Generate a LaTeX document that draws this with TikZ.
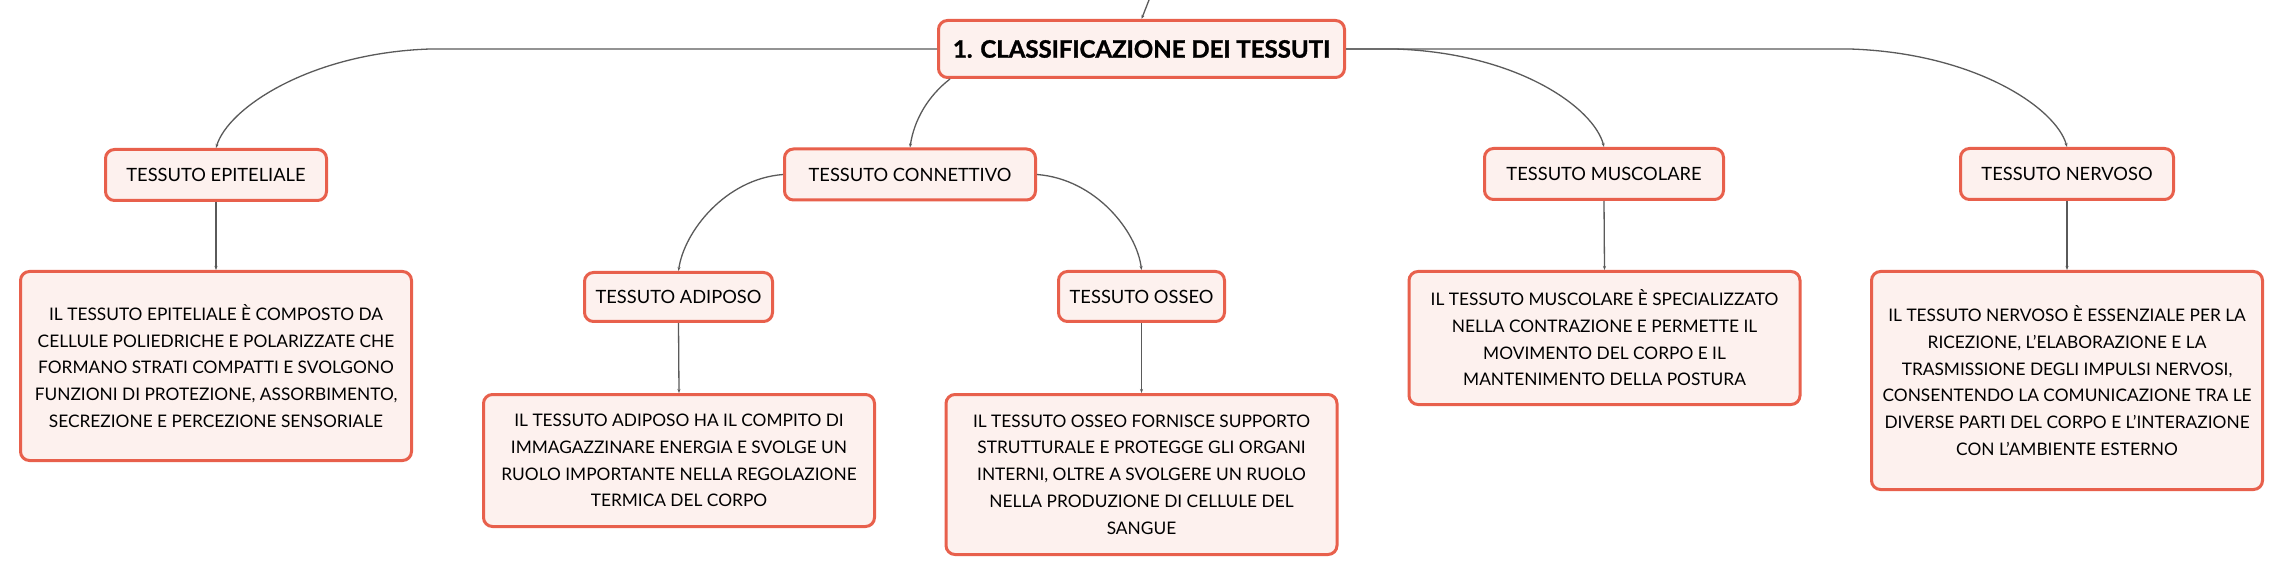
\documentclass[tikz,border=0pt]{standalone}
\usepackage{fontspec}
\setmainfont{Lato}
\newfontfamily\titlefont{Lato}[BoldFeatures={FakeBold=1.3}]
\usetikzlibrary{arrows.meta}
\definecolor{bord}{HTML}{E8604C}
\definecolor{boxfill}{HTML}{FDF1EE}
\definecolor{conn}{HTML}{5A5A5A}
\begin{document}
\begin{tikzpicture}[x=1pt,y=-1pt,
  box/.style={draw=bord, fill=boxfill, line width=3pt, rounded corners=9pt, inner sep=0pt, align=center},
  topic/.style={box, font=\fontsize{18.3}{23}\selectfont},
  descbox/.style={box, minimum width=391pt, font=\fontsize{17.3}{26.7}\selectfont},
  link/.style={draw=conn, line width=1.3pt, -{Stealth[length=4pt,width=3pt]}}
]
\useasboundingbox (0,0) rectangle (2284,577);
\fill[white] (0,0) rectangle (2284,577);

\node[box, minimum width=406pt, minimum height=57pt, font=\titlefont\fontsize{24}{28}\bfseries\selectfont] (main) at (1141.5,49) {1. CLASSIFICAZIONE DEI TESSUTI};

\node[topic, minimum width=221pt, minimum height=51pt] (epi) at (216,175) {TESSUTO EPITELIALE};
\node[topic, minimum width=251pt, minimum height=51pt] (conn) at (910,174.5) {TESSUTO CONNETTIVO};
\node[topic, minimum width=239pt, minimum height=51pt] (musc) at (1604,174) {TESSUTO MUSCOLARE};
\node[topic, minimum width=213pt, minimum height=51pt] (nerv) at (2067,174) {TESSUTO NERVOSO};
\node[topic, minimum width=188pt, minimum height=49pt] (adip) at (678.5,297) {TESSUTO ADIPOSO};
\node[topic, minimum width=166pt, minimum height=50pt] (oss) at (1141.5,296.5) {TESSUTO OSSEO};

\node[descbox, minimum height=189pt] (epiD) at (216,366) {IL TESSUTO EPITELIALE È COMPOSTO DA\\CELLULE POLIEDRICHE E POLARIZZATE CHE\\FORMANO STRATI COMPATTI E SVOLGONO\\FUNZIONI DI PROTEZIONE, ASSORBIMENTO,\\SECREZIONE E PERCEZIONE SENSORIALE};
\node[descbox, minimum height=132pt] (adipD) at (679,460.5) {IL TESSUTO ADIPOSO HA IL COMPITO DI\\IMMAGAZZINARE ENERGIA E SVOLGE UN\\RUOLO IMPORTANTE NELLA REGOLAZIONE\\TERMICA DEL CORPO};
\node[descbox, minimum height=160pt] (ossD) at (1141.5,474.5) {IL TESSUTO OSSEO FORNISCE SUPPORTO\\STRUTTURALE E PROTEGGE GLI ORGANI\\INTERNI, OLTRE A SVOLGERE UN RUOLO\\NELLA PRODUZIONE DI CELLULE DEL\\SANGUE};
\node[descbox, minimum height=133pt] (muscD) at (1604.5,338) {IL TESSUTO MUSCOLARE È SPECIALIZZATO\\NELLA CONTRAZIONE E PERMETTE IL\\MOVIMENTO DEL CORPO E IL\\MANTENIMENTO DELLA POSTURA};
\node[descbox, minimum height=218pt] (nervD) at (2067,380.5) {IL TESSUTO NERVOSO È ESSENZIALE PER LA\\RICEZIONE, L’ELABORAZIONE E LA\\TRASMISSIONE DEGLI IMPULSI NERVOSI,\\CONSENTENDO LA COMUNICAZIONE TRA LE\\DIVERSE PARTI DEL CORPO E L’INTERAZIONE\\CON L’AMBIENTE ESTERNO};

\coordinate (parent) at (1149,0);

% connectors
\draw[link] (parent) .. controls (1146,8) .. (main.north);
\draw[link] (main.west) -- (430,49) .. controls (310,53) and (228,108) .. (epi.north);
\draw[link] (main.east) -- (1395,49) .. controls (1518,53) and (1594,108) .. (musc.north);
\draw[link] (main.east) -- (1850,49) .. controls (1975,53) and (2056,108) .. (nerv.north);
\draw[link] (main.south west) ++(13,0) .. controls (928,96) and (914,120) .. (conn.north);
\draw[link] (conn.west) .. controls (725,179) and (684,232) .. (adip.north);
\draw[link] (conn.east) .. controls (1096,179) and (1137,232) .. (oss.north);
\draw[link] (epi.south) -- (epiD.north);
\draw[link] (adip.south) -- (adipD.north);
\draw[link] (oss.south) -- (ossD.north);
\draw[link] (musc.south) -- (muscD.north);
\draw[link] (nerv.south) -- (nervD.north);
\end{tikzpicture}
\end{document}
